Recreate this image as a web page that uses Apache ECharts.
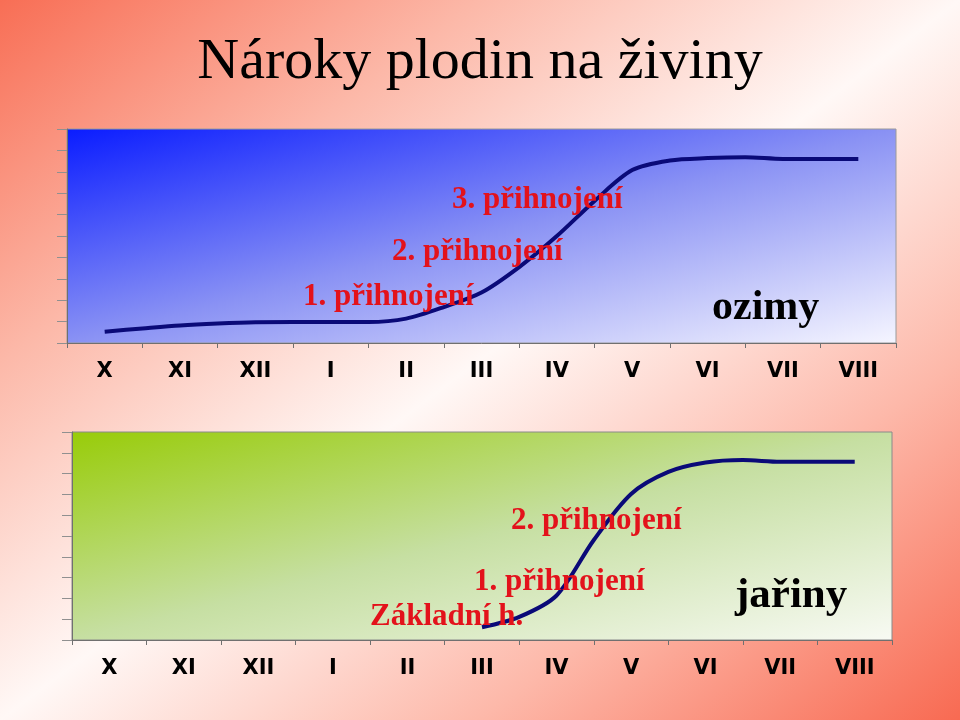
<!DOCTYPE html>
<html>
<head>
<meta charset="utf-8">
<script src="https://cdn.jsdelivr.net/npm/echarts@6/dist/echarts.min.js"></script>
<style>html,body{margin:0;padding:0;}#c{width:960px;height:720px;}</style>
</head>
<body>
<div id="c"></div>
<script>
// ---- data ----
const months = ['X','XI','XII','I','II','III','IV','V','VI','VII','VIII'];
// time in months from X (0 = X, 0.5 = mid-month step)
const ozimyT = [0,0.5,1,1.5,2,2.5,3,3.5,4,4.5,5,5.5,6,6.5,7,7.5,8,8.5,9,9.5,10];
const ozimyV = [0.53,0.68,0.82,0.91,0.97,0.98,0.98,0.98,1.14,1.68,2.36,3.55,5.0,6.64,8.08,8.53,8.64,8.68,8.6,8.6,8.6];
const jarinyT = [5,5.5,6,6.5,7,7.5,8,8.5,9,9.5,10];
const jarinyV = [0.61,1.11,2.14,4.81,7.02,8.08,8.53,8.65,8.57,8.57,8.57];
const titleText = 'Nároky plodin na živiny';
const ozimyNotes = ['3. přihnojení','2. přihnojení','1. přihnojení'];
const jarinyNotes = ['2. přihnojení','1. přihnojení','Základní h.'];

const chart = echarts.init(document.getElementById('c'));
const G = echarts.graphic.LinearGradient;
const red = '#E3121B';
function pairs(t, v){ return t.map((x,i)=>[x, v[i]]); }
// gradient whose iso-lines run along the anti-diagonal of a W x H box
function diagEnd(W, H){
  const f = 2*W*H/(W*W+H*H);
  return [f*H/W, f*W/H];
}

function catAxis(gi){
  return {
    type:'category', gridIndex:gi, data:months, boundaryGap:true,
    axisLine:{show:true, onZero:false, lineStyle:{color:'#707070', width:1}},
    axisTick:{show:true, length:5, lineStyle:{color:'#707070'}},
    axisLabel:{color:'#000', fontFamily:'DejaVu Sans', fontWeight:'bold', fontSize:21, margin:18},
    splitLine:{show:false}
  };
}
function valXAxis(gi){
  return {type:'value', gridIndex:gi, min:-0.5, max:10.5, show:false};
}
function yAx(gi){
  return {
    type:'value', gridIndex:gi, min:0, max:10, interval:1,
    axisLine:{show:true, onZero:false, lineStyle:{color:'#707070'}},
    axisTick:{show:true, length:10, lineStyle:{color:'#909090'}},
    axisLabel:{show:false}, splitLine:{show:false}
  };
}
function txt(x, y, s, size, color){
  return {type:'text', left:x, top:y, silent:true, z:100,
    style:{text:s, fill:color, font:'bold '+size+'px "Liberation Serif", "Times New Roman", serif'}};
}
const bgE = diagEnd(960, 720);
const g1E = diagEnd(829, 214);
const g2E = diagEnd(820, 208);

chart.setOption({
  animation:false,
  backgroundColor: new G(0,0,bgE[0],bgE[1],[
    {offset:0, color:'#F86E55'},
    {offset:0.25, color:'#FCB8A8'},
    {offset:0.5, color:'#FFF8F6'},
    {offset:0.75, color:'#FDB8A9'},
    {offset:1, color:'#F86A52'}
  ]),
  grid:[
    {left:67, top:129, width:829, height:214, show:true, borderColor:'#9A9A9A', borderWidth:1,
     backgroundColor:new G(0,0,g1E[0],g1E[1],[{offset:0,color:'#0A1CFF'},{offset:0.5,color:'#8A92F4'},{offset:1,color:'#F6F6FF'}])},
    {left:72, top:432, width:820, height:208, show:true, borderColor:'#8A8A8A', borderWidth:1,
     backgroundColor:new G(0,0,g2E[0],g2E[1],[{offset:0,color:'#98CC08'},{offset:0.5,color:'#C6DFA2'},{offset:1,color:'#F8FAF4'}])}
  ],
  xAxis:[catAxis(0), valXAxis(0), catAxis(1), valXAxis(1)],
  yAxis:[yAx(0), yAx(1)],
  series:[
    {type:'line', xAxisIndex:1, yAxisIndex:0, data:pairs(ozimyT, ozimyV), smooth:0.3,
     showSymbol:false, lineStyle:{color:'#0A0A78', width:4}, z:5},
    {type:'line', xAxisIndex:3, yAxisIndex:1, data:pairs(jarinyT, jarinyV), smooth:0.3,
     showSymbol:false, lineStyle:{color:'#0A0A78', width:4}, z:5}
  ],
  graphic:[
    {type:'text', left:'center', top:34, silent:true,
     style:{text:titleText, fill:'#000', font:'58px "Liberation Serif", "Times New Roman", serif'}},
    txt(452, 184, ozimyNotes[0], 31, red),
    txt(392, 236, ozimyNotes[1], 31, red),
    txt(303, 281, ozimyNotes[2], 31, red),
    txt(712, 287, 'ozimy', 42, '#000'),
    txt(511, 505, jarinyNotes[0], 31, red),
    txt(474, 566, jarinyNotes[1], 31, red),
    txt(370, 601, jarinyNotes[2], 31, red),
    txt(735, 574, 'jařiny', 43, '#000')
  ]
});
</script>
</body>
</html>
